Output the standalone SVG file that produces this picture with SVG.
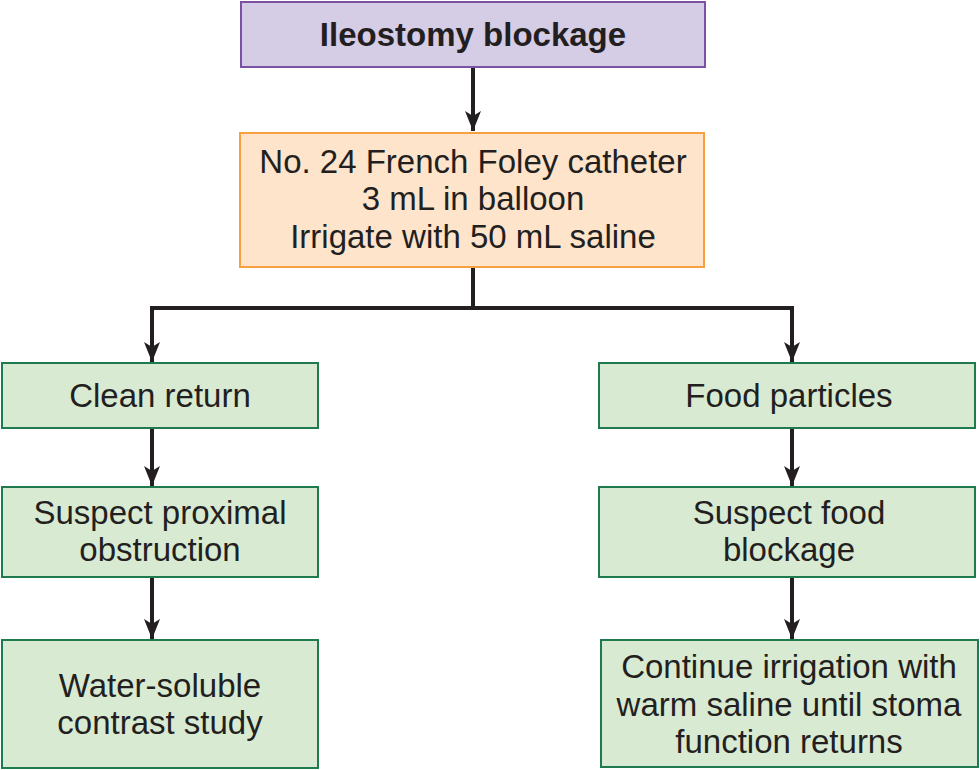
<svg xmlns="http://www.w3.org/2000/svg" width="980" height="770" viewBox="0 0 980 770">
<defs>
<marker id="ah" viewBox="0 0 20 16" refX="20" refY="8" markerWidth="20" markerHeight="16" markerUnits="userSpaceOnUse" orient="auto-start-reverse">
<path d="M0,0 L20,8 L0,16 L5,8 Z" fill="#231f20"/>
</marker>
<style>
.t{font-family:"Liberation Sans",Arial,sans-serif;font-size:33px;fill:#231f20;text-anchor:middle}
.b{font-weight:bold}
.g{fill:#d9ead3;stroke:#1f7a50;stroke-width:2}
.c{fill:none;stroke:#231f20;stroke-width:4}
</style>
</defs>
<rect width="980" height="770" fill="#ffffff"/>
<g id="connectors">
<path class="c" d="M473,67 V131" marker-end="url(#ah)"/>
<path class="c" d="M473,267 V308"/>
<path class="c" d="M152,362 V308 H792 V362" marker-start="url(#ah)" marker-end="url(#ah)"/>
<path class="c" d="M152,428 V486" marker-end="url(#ah)"/>
<path class="c" d="M152,577 V639" marker-end="url(#ah)"/>
<path class="c" d="M792,428 V486" marker-end="url(#ah)"/>
<path class="c" d="M792,577 V639" marker-end="url(#ah)"/>
</g>
<g id="n1">
<rect x="241" y="2" width="464" height="65" fill="#d5cce6" stroke="#7b52a3" stroke-width="2"/>
<text class="t b" x="473" y="46">Ileostomy blockage</text>
</g>
<g id="n2">
<rect x="240" y="133" width="464" height="134" fill="#fde4cb" stroke="#f7a042" stroke-width="2"/>
<text class="t" x="473" y="173">No. 24 French Foley catheter</text>
<text class="t" x="473" y="210">3 mL in balloon</text>
<text class="t" x="473" y="248">Irrigate with 50 mL saline</text>
</g>
<g id="n3">
<rect class="g" x="2" y="363" width="316" height="65"/>
<text class="t" x="160" y="407">Clean return</text>
</g>
<g id="n4">
<rect class="g" x="2" y="487" width="316" height="90"/>
<text class="t" x="160" y="524">Suspect proximal</text>
<text class="t" x="160" y="561">obstruction</text>
</g>
<g id="n5">
<rect class="g" x="2" y="640" width="316" height="128"/>
<text class="t" x="160" y="697">Water-soluble</text>
<text class="t" x="160" y="734">contrast study</text>
</g>
<g id="n6">
<rect class="g" x="599" y="363" width="376" height="65"/>
<text class="t" x="789" y="407">Food particles</text>
</g>
<g id="n7">
<rect class="g" x="599" y="487" width="376" height="90"/>
<text class="t" x="789" y="524">Suspect food</text>
<text class="t" x="789" y="561">blockage</text>
</g>
<g id="n8">
<rect class="g" x="601" y="640" width="377" height="127"/>
<text class="t" x="789" y="678">Continue irrigation with</text>
<text class="t" x="789" y="716">warm saline until stoma</text>
<text class="t" x="789" y="753">function returns</text>
</g>
</svg>
